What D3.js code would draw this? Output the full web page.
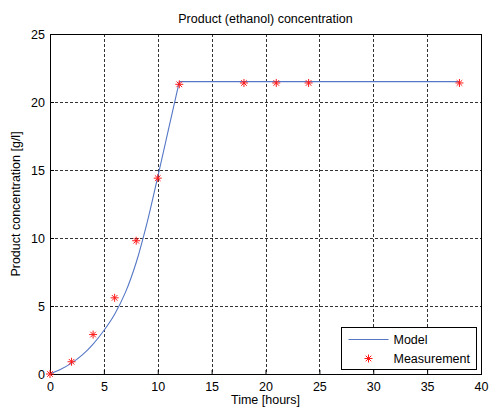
<!DOCTYPE html>
<html>
<head>
<meta charset="utf-8">
<script src="https://cdn.jsdelivr.net/npm/d3@7"></script>
<style>
  body { margin: 0; background: #fff; }
  text { font-family: "Liberation Sans", Arial, sans-serif; fill: #000; }
</style>
</head>
<body>
<div id="chart"></div>
<script>
// measured data points
var measTime = [0, 2, 4, 6, 8, 10, 12, 18, 21, 24, 38];
var measConc = [0, 0.9, 2.9, 5.6, 9.8, 14.4, 21.3, 21.4, 21.4, 21.4, 21.4];

// model curve
var modelTime = [0, 1, 2, 3, 4, 5, 6, 7, 8, 9, 10, 11, 12];
var modelConc = [0, 0.35, 0.8, 1.4, 2.2, 3.2, 4.4, 6.0, 8.2, 11.1, 14.5, 18.0, 21.5];
var plateauTime = [12, 38];
var plateauConc = [21.5, 21.5];

var xTicks = [0, 5, 10, 15, 20, 25, 30, 35, 40];
var yTicks = [0, 5, 10, 15, 20, 25];

function draw_chart() {
    var width = 490, height = 410;
    var margin = {top: 34, right: 9, bottom: 36, left: 50};
    var w = width - margin.left - margin.right;
    var h = height - margin.top - margin.bottom;
    var fontSize = '12.5px';

    var svg = d3.select('#chart')
        .append('svg')
        .attr('width', width)
        .attr('height', height);

    var g = svg.append('g')
        .attr('transform', `translate(${margin.left}, ${margin.top})`);

    var x = d3.scaleLinear().domain([0, 40]).range([0, w]);
    var y = d3.scaleLinear().domain([0, 25]).range([h, 0]);

    // grid
    g.selectAll('.vgrid')
        .data(xTicks.slice(1, -1))
        .enter().append('line')
        .attr('x1', d => Math.round(x(d)) + 0.5).attr('x2', d => Math.round(x(d)) + 0.5)
        .attr('y1', 0).attr('y2', h)
        .attr('stroke', '#333').attr('stroke-dasharray', '3,2');

    g.selectAll('.hgrid')
        .data(yTicks.slice(1, -1))
        .enter().append('line')
        .attr('y1', d => Math.round(y(d)) + 0.5).attr('y2', d => Math.round(y(d)) + 0.5)
        .attr('x1', 0).attr('x2', w)
        .attr('stroke', '#333').attr('stroke-dasharray', '3,2');

    // axes
    var xAxis = d3.axisBottom(x).tickValues(xTicks).tickSize(-4).tickPadding(8);
    var yAxis = d3.axisLeft(y).tickValues(yTicks).tickSize(-4).tickPadding(5);

    var gx = g.append('g').attr('transform', `translate(0, ${h})`).call(xAxis);
    var gy = g.append('g').call(yAxis);
    [gx, gy].forEach(function(a) {
        a.select('.domain').remove();
        a.selectAll('text').style('font-size', fontSize)
            .style('font-family', '"Liberation Sans", Arial, sans-serif');
    });

    g.append('rect')
        .attr('x', 0.5).attr('y', 0.5)
        .attr('width', w).attr('height', h)
        .attr('fill', 'none').attr('stroke', '#000');

    // model line
    var line = d3.line()
        .x(d => x(d[0]))
        .y(d => y(d[1]));

    var rise = modelTime.map((t, i) => [t, modelConc[i]]);
    var plateau = plateauTime.map((t, i) => [t, plateauConc[i]]);

    g.append('path')
        .attr('d', line.curve(d3.curveCatmullRom)(rise))
        .attr('fill', 'none').attr('stroke', '#5577c6').attr('stroke-width', 1.1);
    g.append('path')
        .attr('d', line.curve(d3.curveLinear)(plateau))
        .attr('fill', 'none').attr('stroke', '#5577c6').attr('stroke-width', 1.1);

    // asterisk marker
    function asterisk(sel, s) {
        var d = s * 0.7;
        sel.append('path')
            .attr('d', `M${-s},0H${s}M0,${-s}V${s}M${-d},${-d}L${d},${d}M${-d},${d}L${d},${-d}`)
            .attr('stroke', '#ff1a1a').attr('stroke-width', 1).attr('fill', 'none');
    }

    var meas = measTime.map((t, i) => [t, measConc[i]]);
    g.selectAll('.meas')
        .data(meas)
        .enter().append('g')
        .attr('transform', d => `translate(${x(d[0])}, ${y(d[1])})`)
        .each(function() { asterisk(d3.select(this), 4); });

    // legend
    var lg = svg.append('g').attr('transform', 'translate(341.5, 327.5)');
    lg.append('rect').attr('width', 135).attr('height', 42)
        .attr('fill', '#fff').attr('stroke', '#000');
    lg.append('line').attr('x1', 7).attr('x2', 47).attr('y1', 12).attr('y2', 12)
        .attr('stroke', '#5577c6').attr('stroke-width', 1.1);
    lg.append('text').attr('x', 52).attr('y', 16).style('font-size', fontSize).text('Model');
    var m = lg.append('g').attr('transform', 'translate(27, 31)');
    asterisk(m, 4);
    lg.append('text').attr('x', 52).attr('y', 35).style('font-size', fontSize).text('Measurement');

    // titles
    svg.append('text')
        .attr('x', margin.left + w / 2).attr('y', 23)
        .attr('text-anchor', 'middle').style('font-size', fontSize)
        .text('Product (ethanol) concentration');

    svg.append('text')
        .attr('x', margin.left + w / 2).attr('y', 404)
        .attr('text-anchor', 'middle').style('font-size', fontSize)
        .text('Time [hours]');

    svg.append('text')
        .attr('transform', `translate(20, ${margin.top + h / 2}) rotate(-90)`)
        .attr('text-anchor', 'middle').style('font-size', fontSize)
        .text('Product concentration [g/l]');
}

document.addEventListener('DOMContentLoaded', draw_chart);
</script>
</body>
</html>
